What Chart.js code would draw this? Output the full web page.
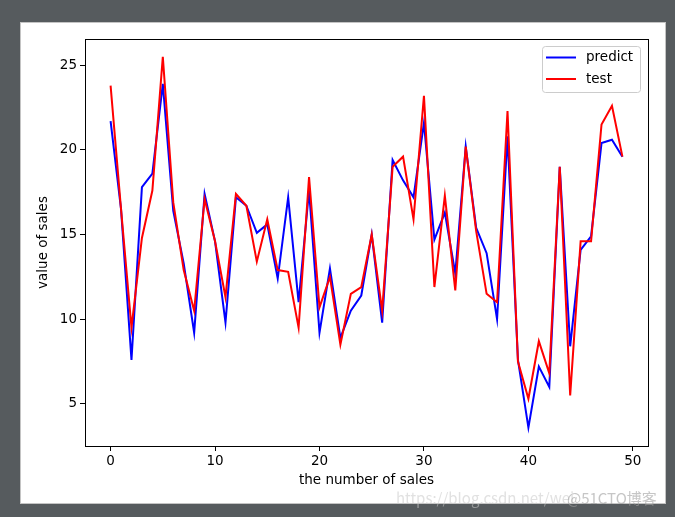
<!DOCTYPE html>
<html>
<head>
<meta charset="utf-8">
<script src="https://cdn.jsdelivr.net/npm/chart.js@4.4.1/dist/chart.umd.min.js"></script>
<style>
  html, body { margin: 0; padding: 0; }
  body { width: 675px; height: 517px; background: #565b5e; position: relative; overflow: hidden; }
  #fig { position: absolute; left: 20px; top: 22px; width: 646px; height: 482px; background: #fff;
         border: 1px solid #c4c4c4; box-sizing: border-box; }
  #fig canvas { display: block; }
  .wm { position: absolute; top: 487px; font-family: "Noto Sans CJK SC", "DejaVu Sans", sans-serif; font-size: 15px; white-space: nowrap; }
</style>
</head>
<body>
<div id="fig"><canvas id="chart" width="644" height="480"></canvas></div>
<span class="wm" style="left:396px; color:rgba(200,200,200,0.55);">https://blog.csdn.net/wei</span>
<span class="wm" style="left:567px; color:rgba(160,160,160,0.6);">@51CTO博客</span>
<script>
// valores
const predict = [21.7, 16.5, 7.6, 17.8, 18.6, 23.9, 16.4, 13.3, 9.2, 17.4,
                 14.6, 9.8, 17.2, 16.7, 15.1, 15.6, 12.4, 17.2, 11.0, 17.6,
                 9.2, 13.0, 8.9, 10.5, 11.4, 15.0, 9.8, 19.4, 18.2, 17.2,
                 21.6, 14.7, 16.3, 12.7, 20.2, 15.4, 13.9, 10.0, 20.8, 7.6,
                 3.6, 7.2, 6.0, 19.0, 8.4, 14.1, 14.9, 20.4, 20.6, 19.6];
const test = [23.8, 16.5, 9.5, 14.8, 17.6, 25.5, 16.9, 12.9, 10.5, 17.1,
              14.6, 11.3, 17.4, 16.7, 13.4, 15.9, 12.9, 12.8, 9.5, 18.4,
              10.7, 12.5, 8.5, 11.5, 11.9, 15.0, 10.5, 19.0, 19.6, 15.9,
              23.2, 11.9, 17.3, 11.7, 20.2, 15.2, 11.5, 11.0, 22.3, 7.5,
              5.3, 8.7, 6.8, 19.0, 5.5, 14.6, 14.6, 21.5, 22.6, 19.6];
const salesIndex = predict.map((v, i) => i);
const xTicks = [0, 10, 20, 30, 40, 50];
const yTicks = [5, 10, 15, 20, 25];

const FONT = "'DejaVu Sans', sans-serif";
const FSIZE = 13.5;

function toPoints(values) {
    return values.map((v, i) => ({x: salesIndex[i], y: v}));
}

// marco y leyenda al estilo matplotlib
const frameAndLegend = {
    id: 'frameAndLegend',
    afterDraw(chart) {
        const ctx = chart.ctx;
        const a = chart.chartArea;
        ctx.save();
        ctx.strokeStyle = '#000';
        ctx.lineWidth = 1;
        ctx.strokeRect(Math.round(a.left) + 0.5, Math.round(a.top) + 0.5,
                       Math.round(a.right - a.left), Math.round(a.bottom - a.top));

        // leyenda
        const w = 98, h = 46;
        const x = a.right - 8 - w, y = a.top + 7;
        ctx.beginPath();
        ctx.roundRect(x + 0.5, y + 0.5, w, h, 3);
        ctx.fillStyle = 'rgba(255,255,255,0.8)';
        ctx.fill();
        ctx.strokeStyle = '#cccccc';
        ctx.stroke();
        const items = [chart.data.datasets[0], chart.data.datasets[1]];
        ctx.font = FSIZE + 'px ' + FONT;
        ctx.textBaseline = 'middle';
        items.forEach((ds, i) => {
            const ly = y + 11.5 + i * 21.5;
            ctx.beginPath();
            ctx.strokeStyle = ds.borderColor;
            ctx.lineWidth = 2;
            ctx.moveTo(x + 4, ly);
            ctx.lineTo(x + 34, ly);
            ctx.stroke();
            ctx.fillStyle = '#000';
            ctx.fillText(ds.label, x + 44, ly);
        });
        ctx.restore();
    }
};

new Chart(document.getElementById('chart').getContext('2d'), {
    type: 'line',
    data: {
        datasets: [{
            label: 'predict',
            data: toPoints(predict),
            borderColor: '#0000ff',
            borderWidth: 2,
            pointRadius: 0,
            tension: 0,
            fill: false,
            order: 1
        }, {
            label: 'test',
            data: toPoints(test),
            borderColor: '#ff0000',
            borderWidth: 2,
            pointRadius: 0,
            tension: 0,
            fill: false,
            order: 0
        }]
    },
    options: {
        responsive: false,
        animation: false,
        events: [],
        layout: {padding: {top: 16, right: 17, left: 0, bottom: 0}},
        plugins: {legend: {display: false}, tooltip: {enabled: false}},
        scales: {
            x: {
                type: 'linear',
                min: -2.45,
                max: 51.45,
                afterBuildTicks: s => { s.ticks = xTicks.map(v => ({value: v})); },
                afterFit: s => { s.height = 57; },
                grid: {display: true, drawOnChartArea: false, drawTicks: true, tickLength: 5, tickColor: '#000'},
                border: {display: true, color: '#000'},
                ticks: {color: '#000', font: {family: FONT, size: FSIZE}, padding: 2, maxRotation: 0},
                title: {display: true, text: 'the number of sales', color: '#000',
                        font: {family: FONT, size: FSIZE}, padding: {top: 4, bottom: 14}}
            },
            y: {
                min: 2.51,
                max: 26.55,
                afterBuildTicks: s => { s.ticks = yTicks.map(v => ({value: v})); },
                afterFit: s => { s.width = 64; },
                grid: {display: true, drawOnChartArea: false, drawTicks: true, tickLength: 5, tickColor: '#000'},
                border: {display: true, color: '#000'},
                ticks: {color: '#000', font: {family: FONT, size: FSIZE}, padding: 3},
                title: {display: true, text: 'value of sales', color: '#000',
                        font: {family: FONT, size: FSIZE}, padding: {top: 14, bottom: 4}}
            }
        }
    },
    plugins: [frameAndLegend]
});
</script>
</body>
</html>
